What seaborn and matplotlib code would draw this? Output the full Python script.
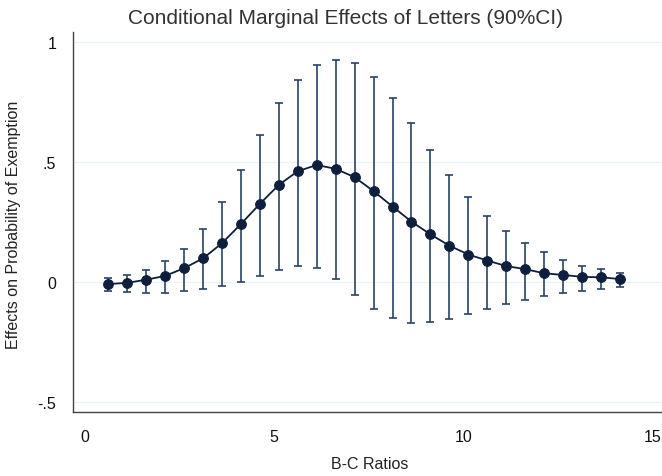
import numpy as np
import pandas as pd
import matplotlib
matplotlib.use("Agg")
import matplotlib.pyplot as plt
import seaborn as sns

# B-C ratio grid and conditional marginal effects
bc_ratio = [0.63, 1.13, 1.63, 2.13, 2.63, 3.13, 3.63, 4.13, 4.63, 5.13,
            5.63, 6.13, 6.63, 7.13, 7.63, 8.13, 8.63, 9.13, 9.63, 10.13,
            10.63, 11.13, 11.63, 12.13, 12.63, 13.13, 13.63, 14.13]
effect = [-0.010, -0.005, 0.008, 0.024, 0.056, 0.097, 0.160, 0.240, 0.324, 0.403,
          0.460, 0.486, 0.470, 0.435, 0.377, 0.313, 0.250, 0.197, 0.150, 0.113,
          0.088, 0.065, 0.052, 0.035, 0.028, 0.020, 0.018, 0.011]
ci_low = [-0.037, -0.042, -0.046, -0.046, -0.040, -0.030, -0.019, -0.003, 0.022, 0.050,
          0.067, 0.057, 0.013, -0.054, -0.114, -0.153, -0.171, -0.169, -0.155, -0.136,
          -0.114, -0.094, -0.076, -0.061, -0.048, -0.037, -0.029, -0.021]
ci_high = [0.014, 0.028, 0.050, 0.085, 0.138, 0.220, 0.331, 0.467, 0.613, 0.745,
           0.840, 0.903, 0.924, 0.910, 0.852, 0.764, 0.659, 0.547, 0.445, 0.353,
           0.275, 0.213, 0.163, 0.122, 0.092, 0.067, 0.052, 0.038]

y_ticks = [-0.5, 0, 0.5, 1]
y_labels = ["-.5", "0", ".5", "1"]
x_ticks = [0, 5, 10, 15]

df = pd.DataFrame({"bc": bc_ratio, "eff": effect, "lo": ci_low, "hi": ci_high})

sns.set_style("white")
plt.rcParams["font.family"] = ["Liberation Sans", "DejaVu Sans"]

fig = plt.figure(figsize=(6.62, 4.77), dpi=100)
ax = fig.add_axes([73 / 662, 1 - 413 / 477, 589 / 662, 380 / 477])

navy = "#0d1f3c"
bar_col = "#2a4366"

# faint horizontal grid like Stata's s2color scheme
for yt in y_ticks:
    ax.axhline(yt, color="#eaf2f8", lw=0.9, zorder=0)

ax.errorbar(df["bc"], df["eff"],
            yerr=[df["eff"] - df["lo"], df["hi"] - df["eff"]],
            fmt="none", ecolor=bar_col, elinewidth=1.2, capsize=3.2,
            capthick=1.2, zorder=2)
sns.lineplot(data=df, x="bc", y="eff", ax=ax, color=navy, lw=1.3,
             marker="o", markersize=7, markeredgecolor=navy,
             markerfacecolor=navy, zorder=3)

ax.set_xlim(-0.3, 15.24)
ax.set_ylim(-0.543, 1.04)
ax.set_xticks(x_ticks)
ax.set_yticks(y_ticks)
ax.set_yticklabels(y_labels)

for side in ["top", "right"]:
    ax.spines[side].set_visible(False)
for side in ["left", "bottom"]:
    ax.spines[side].set_color("#444444")
    ax.spines[side].set_linewidth(1.0)

ax.tick_params(axis="both", direction="out", length=5, width=0.9,
               color="#444444", labelsize=11.5, labelcolor="#111111")
ax.tick_params(axis="y", pad=7)
ax.tick_params(axis="x", pad=7)

ax.set_xlabel("B-C Ratios", fontsize=11.5, color="#222222")
ax.xaxis.label.set_va("center")
ax.xaxis.set_label_coords((369.5 - 73) / 589, (413 - 465) / 380)
ax.set_ylabel("Effects on Probability of Exemption", fontsize=11.5,
              color="#222222")
ax.yaxis.label.set_va("center")
ax.yaxis.set_label_coords((14 - 73) / 589, (413 - 225) / 380)

fig.text(345 / 662, 1 - 18 / 477, "Conditional Marginal Effects of Letters (90%CI)",
         ha="center", va="center", fontsize=15, color="#333333")

fig.savefig("out.png", dpi=100)
